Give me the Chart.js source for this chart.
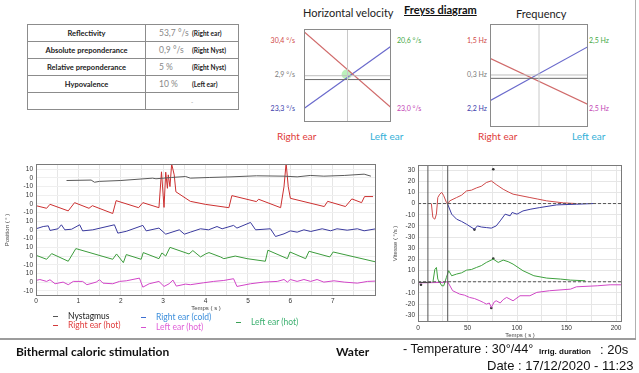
<!DOCTYPE html>
<html>
<head>
<meta charset="utf-8">
<script src="https://cdn.jsdelivr.net/npm/chart.js@4.4.1/dist/chart.umd.min.js"></script>
<style>
  body { margin:0; width:639px; height:373px; background:#fff; position:relative; overflow:hidden; font-family: Lato, "Liberation Sans", sans-serif; }
  .abs { position:absolute; white-space:nowrap; line-height:1; }
  canvas { position:absolute; }
  #tbl { position:absolute; left:27px; top:24px; width:211px; border-collapse:collapse; table-layout:fixed; }
  #tbl td { border:1px solid #8c8c8c; padding:0; height:16px; font-size:7.5px; white-space:nowrap; }
  #tbl td.k { text-align:center; font-weight:bold; color:#222; }
  #tbl td.v { text-align:left; padding-left:13px; }
  #tbl .val { color:#888; font-size:8.5px; display:inline-block; width:33px; }
  #tbl .side { font-weight:bold; font-size:6.5px; color:#222; }
  .sm { font-size:7px; }
  .ear { font-size:10px; }
  .lg { position:absolute; white-space:nowrap; font-size:8.5px; line-height:1; }
  .lg i { display:inline-block; width:5px; height:1px; vertical-align:middle; margin-right:10px; }
</style>
</head>
<body>

<table id="tbl"><colgroup><col style="width:118px"><col style="width:93px"></colgroup></table>

<div class="abs" style="left:303px;top:7px;font-size:11px;color:#222">Horizontal velocity</div>
<div class="abs" style="left:404px;top:4px;font-size:11px;font-weight:bold;text-decoration:underline;color:#111">Freyss diagram</div>
<div class="abs" style="left:516px;top:8px;font-size:11px;color:#222">Frequency</div>

<div id="velText"></div>
<div id="freqText"></div>

<canvas id="vel" width="97" height="103" style="left:299px;top:24px"></canvas>
<canvas id="freq" width="98" height="103" style="left:490px;top:24px"></canvas>

<canvas id="pos" width="390" height="157" style="left:0;top:155px"></canvas>
<canvas id="speed" width="249" height="185" style="left:390px;top:155px"></canvas>

<div id="legend"></div>

<div class="abs" style="left:635px;top:0;width:1px;height:339px;background:#b0b0b0"></div>
<div class="abs" style="left:0;top:338px;width:636px;height:2px;background:#9c9c9c"></div>

<div class="abs" style="left:16px;top:346px;font-size:12px;font-weight:bold;color:#111">Bithermal caloric stimulation</div>
<div class="abs" style="left:336px;top:346px;font-size:12px;font-weight:bold;color:#111">Water</div>
<div class="abs" style="left:403px;top:343px;font-size:12.6px;font-family:'Liberation Sans';color:#111">- Temperature : 30°/44°</div>
<div class="abs" style="left:539px;top:348px;font-size:8px;font-weight:bold;font-family:'Liberation Sans';color:#111">Irrig. duration</div>
<div class="abs" style="left:600px;top:343px;font-size:13px;font-family:'Liberation Sans';color:#111">: 20s</div>
<div class="abs" style="left:487px;top:359px;font-size:13px;font-family:'Liberation Sans';color:#111">Date : 17/12/2020 - 11:23</div>

<script>
// summary table
const tableLabels = ["Reflectivity", "Absolute preponderance", "Relative preponderance", "Hypovalence", ""];
const tableValues = ["53,7 °/s", "0,9 °/s", "5 %", "10 %", "-"];
const tableSides = ["(Right ear)", "(Right Nyst)", "(Right Nyst)", "(Left ear)", ""];

// Freyss diagrams: value at the right-ear side and at the left-ear side
const earSides = [0, 1];
const earMiddle = 0.5;
const velRightEar = [37.7, -27.6];
const velLeftEar = [-28.3, 25.2];
const velRefLines = [-0.2, -3.5];
const velCross = [0.49, 0.8];
const freqRightEar = [13.4, -22.4];
const freqLeftEar = [-19.6, 22.4];
const freqRefLines = [0.4, -2.2];
const velLabels = ["30,4 °/s", "20,6 °/s", "2,9 °/s", "23,3 °/s", "23,0 °/s"];
const freqLabels = ["1,5 Hz", "2,5 Hz", "0,3 Hz", "2,2 Hz", "2,5 Hz"];

// position traces [time s, position °]
const nystagmus = [[0.72,-3],[1.3,-2.5],[1.38,-5],[1.5,-4],[2.0,-3],[2.75,-0.3],[2.83,-1],[3.2,0.5],[3.53,1.6],[3.64,-0.3],[4.1,0.5],[4.6,1.2],[5.2,2.4],[5.85,2],[6.16,1.2],[6.47,2.8],[6.79,2],[7.27,2.8],[7.74,4.3],[7.9,2]];
const rightHot = [[0,-2],[0.25,-5],[0.33,-0.4],[0.76,-8],[0.91,1.5],[1.25,-5],[1.33,-2],[1.81,-11],[1.89,3.8],[2.42,-4.3],[2.52,1.5],[2.9,-4.3],[2.96,37],[3.02,-4],[3.06,36.6],[3.1,18],[3.12,33.5],[3.16,20],[3.2,46],[3.26,33.5],[3.3,14],[3.64,3],[4.0,-0.5],[4.55,-4.3],[4.62,9.6],[5.2,2.7],[5.25,5.4],[5.77,-4.3],[5.85,20],[5.9,47],[5.95,20],[6.0,6.5],[6.8,-3],[6.88,3],[7.3,-3],[7.45,5.8],[7.68,1.5],[7.75,8.5],[7.95,8.5]];
const rightCold = [[0,1.4],[0.17,4],[0.29,4.8],[0.33,-0.5],[0.52,1.4],[0.6,6],[0.68,0.2],[0.84,0.9],[1.03,6],[1.1,-1],[1.34,0.2],[1.85,6],[1.93,-3.6],[2.13,-1.5],[2.52,5.3],[2.6,-1],[2.9,2.2],[3.06,-4.8],[3.38,0.2],[3.5,-4.8],[3.64,-2.5],[3.88,1.4],[4.07,0.2],[4.27,4],[4.39,1.4],[4.66,5.3],[4.74,2.2],[5.06,8.7],[5.18,0.2],[5.53,1.4],[5.65,-7.5],[5.85,-4.4],[6.0,-1],[6.16,-2.5],[6.32,0.2],[6.48,-1.7],[6.75,1.4],[6.95,-0.9],[7.1,1.4],[7.34,-0.2],[7.58,1.4],[7.74,-0.9],[8.02,1.4]];
const leftHotGreen = [[0,0.9],[0.25,-3.7],[0.37,2.8],[0.76,-6],[0.94,8.6],[1.81,-3.7],[1.9,2.4],[2.06,-7.6],[2.13,1.7],[2.48,-3.7],[2.53,4],[2.9,-3],[2.97,3.6],[3.06,0],[3.16,10],[3.61,2.4],[3.7,6.3],[3.88,-1],[4.0,2.4],[4.08,4],[4.35,-1],[4.43,-3],[4.7,0],[4.98,-3],[5.41,-6],[5.47,6.7],[5.93,-3],[5.99,4.7],[6.36,-3],[6.44,5.5],[6.93,-1],[7.01,4.7],[8.02,-6.8]];
const leftHotPink = [[0,1.9],[0.09,3],[0.25,0.8],[0.33,2.7],[0.45,-1.9],[0.64,0],[0.76,-3],[0.88,0.8],[1.1,0.8],[1.2,-3],[1.42,0],[1.5,2.7],[1.58,-1.2],[1.81,-1.9],[1.97,0.8],[2.13,1.5],[2.44,4.6],[2.52,-5.8],[2.67,-1.9],[2.9,0.8],[3.02,-5],[3.14,-1.9],[3.23,2.3],[3.31,-4.6],[3.53,-2.3],[3.64,-3],[3.95,-0.8],[4.19,0.8],[4.43,1.9],[4.66,3.9],[4.74,-5],[5.06,-1.9],[5.37,0],[5.69,0.8],[5.85,3],[5.93,0],[6.0,3],[6.16,0.8],[6.32,3],[6.48,0.8],[6.63,3],[6.79,0],[7.03,1.5],[7.27,0],[7.58,-1.2],[7.82,0.8],[8.02,1.2]];
const leftBandOffsets = [120, 90, 60, 30, 0];
const leftXTicks = [0,0.5,1,1.5,2,2.5,3,3.5,4,4.5,5,5.5,6,6.5,7,7.5,8];
const leftYTicks = [-10,0,10,20,30,40,50,60,70,80,90,100,110,120,130];

// slow phase velocity [time s, velocity °/s]
const speedBaseline = [[0,-0.6],[13,-0.6]];
const speedRightHot = [[13.5,0],[15,-12.5],[17,-14],[18.6,-9.5],[20,5.4],[22,8.4],[24,10],[26,7],[28.7,1],[30,-0.6],[32,2.4],[39,5.4],[44,7.5],[49,11.3],[54,12],[59,14],[64,15.5],[69,18.8],[74,20.3],[79,17],[86,12.8],[91,10.5],[96,8.4],[104,7],[113,5.4],[121,4],[130,2.4],[147,0.6],[160,0]];
const speedRightCold = [[30,-0.6],[34,-9.5],[39,-14],[44,-16],[49,-18.5],[57,-23],[60,-20],[64,-21],[69,-21.5],[74,-22],[79,-20],[83,-15.5],[88,-9.5],[93,-11],[95,-8],[100,-9.5],[106,-6.6],[114,-5],[123,-3.6],[140,-1.2],[160,-0.6],[177,0]];
const speedLeftHotGreen = [[15,-0.6],[17,11],[18.6,12.8],[20,2.4],[24,-3.6],[26,-3.6],[28.7,3.9],[31,9.9],[34,5.4],[39,6.9],[44,8],[49,10.4],[54,11],[59,12.8],[64,14.5],[69,17.3],[76,20.3],[81,17.3],[86,19.4],[91,18],[96,15.8],[106,9.9],[117,5.4],[130,3.3],[144,2.4],[154,1.5],[169,0.9]];
const speedLeftHotPink = [[0,-36],[0,-1],[25,-0.6],[30,0],[35,-8],[42,-11],[47,-12],[52,-14],[57,-15],[62.5,-17],[66,-18.5],[69,-20],[72,-19],[74,-23],[77,-18],[79,-17],[83,-19],[86,-16],[89.5,-14],[96,-17],[103,-12.5],[113,-12.5],[120,-9.5],[133,-8],[154,-6.6],[160,-4.5],[181,-3.6],[194,-2.7],[205,-2.7]];
const speedMarksUpper = [[76,30.7],[57,-23.3]];
const speedMarksLower = [[3,-2.7],[76,20.8],[74,-23.5]];
const irrigationMarks = [10, 30];
const speedBandOffsets = [70, 0];
const speedXMax = 206;
const speedXTicks = [0,25,50,75,100,125,150,175,200];
const speedYTicks = [-30,-20,-10,0,10,20,30,40,50,60,70,80,90,100];

const legendItems = [
    ["Nystagmus", "#555555", "#1a1a1a", 53, 312],
    ["Right ear (hot)", "#d33a3a", "#e03c3c", 53, 321],
    ["Right ear (cold)", "#3b6fd0", "#3d8fdc", 141, 313],
    ["Left ear (hot)", "#d64fcf", "#e060d8", 141, 323],
    ["Left ear (hot)", "#3aa055", "#3cb070", 236, 318]
];

// ---------- html parts
let tbl = document.getElementById("tbl");
for (let i = 0; i < tableLabels.length; i++) {
    let tr = document.createElement("tr");
    tr.innerHTML = '<td class="k">' + tableLabels[i] + '</td><td class="v"><span class="val">' +
        tableValues[i] + '</span><span class="side">' + tableSides[i] + '</span></td>';
    if (i === 4) tr.children[1].innerHTML = '<span class="val" style="padding-left:32px;font-size:6px">' + tableValues[i] + '</span>';
    tbl.appendChild(tr);
}

function placeLabels(id, labels, leftX, rightX) {
    let colors = ["#d04848", "#44a844", "#7a7a7a", "#3b3bab", "#c244b4"];
    let xs = [leftX, rightX, leftX, leftX, rightX];
    let ys = [37, 37, 71, 105, 105];
    let html = "";
    for (let i = 0; i < labels.length; i++) {
        let align = xs[i] === leftX ? "text-align:right;width:26px;left:" + (leftX - 26) + "px" : "left:" + rightX + "px";
        html += '<div class="abs sm" style="' + align + ';top:' + ys[i] + 'px;color:' + colors[i] + '">' + labels[i] + '</div>';
    }
    document.getElementById(id).innerHTML = html;
}
placeLabels("velText", velLabels, 295, 397);
placeLabels("freqText", freqLabels, 487, 589);

let ears = '<div class="abs ear" style="left:277px;top:131px;color:#e03c3c">Right ear</div>' +
    '<div class="abs ear" style="left:370px;top:131px;color:#33b0d8">Left ear</div>' +
    '<div class="abs ear" style="left:478px;top:131px;color:#e03c3c">Right ear</div>' +
    '<div class="abs ear" style="left:572px;top:131px;color:#33b0d8">Left ear</div>';
document.getElementById("velText").innerHTML += ears;

let lg = "";
legendItems.forEach(function (it) {
    lg += '<div class="lg" style="left:' + it[3] + 'px;top:' + it[4] + 'px;color:' + it[2] + '"><i style="background:' + it[1] + '"></i>' + it[0] + '</div>';
});
document.getElementById("legend").innerHTML = lg;

// ---------- charts
const framePlugin = {
    id: "frame",
    afterDraw(chart, args, opts) {
        let a = chart.chartArea, ctx = chart.ctx;
        ctx.save();
        ctx.strokeStyle = opts.color;
        ctx.lineWidth = 1;
        ctx.strokeRect(a.left + 0.5, a.top + 0.5, a.right - a.left - 1, a.bottom - a.top - 1);
        ctx.restore();
    }
};

function pts(pairs, off) {
    return pairs.map(p => ({ x: p[0], y: p[1] + (off || 0) }));
}

function line(data, color, extra) {
    return Object.assign({ data: data, showLine: true, borderColor: color, borderWidth: 1, pointRadius: 0, tension: 0 }, extra || {});
}

function freyssChart(id, rightEar, leftEar, refs, cross) {
    let ds = [
        line([{ x: earMiddle, y: -40 }, { x: earMiddle, y: 40 }], "#c8c8c8"),
        line(earSides.map(x => ({ x: x, y: refs[0] })), "#bdbdbd"),
        line(earSides.map(x => ({ x: x, y: refs[1] })), "#6a6a6a"),
        line(earSides.map((x, i) => ({ x: x, y: rightEar[i] })), "#d06a6a", { borderWidth: 1.2 }),
        line(earSides.map((x, i) => ({ x: x, y: leftEar[i] })), "#6a6acc", { borderWidth: 1.2 })
    ];
    if (cross) ds.push({ data: [{ x: cross[0], y: cross[1] }], pointRadius: 5, pointBackgroundColor: "rgba(120,225,120,0.5)", pointBorderWidth: 0 });
    new Chart(document.getElementById(id), {
        type: "scatter",
        data: { datasets: ds },
        plugins: [framePlugin],
        options: {
            responsive: false, animation: false,
            layout: { padding: 0 },
            scales: {
                x: { type: "linear", min: 0, max: 1, display: false },
                y: { type: "linear", min: -40, max: 40, display: false }
            },
            plugins: { legend: { display: false }, tooltip: { enabled: false }, frame: { color: "#8a8a8a" } }
        }
    });
}
freyssChart("vel", velRightEar, velLeftEar, velRefLines, velCross);
freyssChart("freq", freqRightEar, freqLeftEar, freqRefLines, null);

const tickFont = { family: "Liberation Sans", size: 6.5 };

// position chart
new Chart(document.getElementById("pos"), {
    type: "scatter",
    data: {
        datasets: [
            line(pts(nystagmus, leftBandOffsets[0]), "#5a5a5a"),
            line(pts(rightHot, leftBandOffsets[1]), "#cc3030"),
            line(pts(rightCold, leftBandOffsets[2]), "#3a3a9e"),
            line(pts(leftHotGreen, leftBandOffsets[3]), "#3c9c3c"),
            line(pts(leftHotPink, leftBandOffsets[4]), "#d245c8")
        ]
    },
    plugins: [framePlugin],
    options: {
        responsive: false, animation: false,
        layout: { padding: { top: 9, right: 14, left: 0, bottom: 0 } },
        scales: {
            x: {
                type: "linear", min: 0, max: 8.02,
                afterBuildTicks: s => { s.ticks = leftXTicks.map(v => ({ value: v })); },
                afterFit: s => { s.height = 16; },
                ticks: { font: tickFont, color: "#333", padding: 1, maxRotation: 0, autoSkip: false,
                    callback: v => (v % 1 === 0 && v < 7.5) ? String(v) : "" },
                grid: { color: "#e6e6e6", drawTicks: false },
                border: { display: false },
                title: { display: true, text: "Temps ( s )", font: { family: "Liberation Sans", size: 6 }, color: "#444", padding: 0 }
            },
            y: {
                type: "linear", min: -16, max: 136,
                afterBuildTicks: s => { s.ticks = leftYTicks.map(v => ({ value: v })); },
                afterFit: s => { s.width = 36; },
                ticks: { font: tickFont, color: "#333", padding: 3, autoSkip: false,
                    callback: v => String(((v % 30) + 45) % 30 - 15) },
                grid: { color: "#efefef", drawTicks: false },
                border: { display: false },
                title: { display: true, text: "Position ( ° )", font: { family: "Liberation Sans", size: 6 }, color: "#444", padding: { top: 4 } }
            }
        },
        plugins: { legend: { display: false }, tooltip: { enabled: false }, frame: { color: "#7a7a7a" } }
    }
});

// velocity chart
let speedSets = [];
speedBandOffsets.forEach(function (off) {
    speedSets.push(line([{ x: 0, y: off }, { x: speedXMax, y: off }], "#555", { borderDash: [3, 2] }));
});
irrigationMarks.forEach(function (t) {
    speedSets.push(line([{ x: t, y: -40 }, { x: t, y: 110 }], "#555"));
});
speedSets.push(line(pts(speedBaseline, speedBandOffsets[1]), "#444"));
speedSets.push(line(pts(speedRightHot, speedBandOffsets[0]), "#cf4a4a"));
speedSets.push(line(pts(speedRightCold, speedBandOffsets[0]), "#3b3ba3"));
speedSets.push(line(pts(speedLeftHotGreen, speedBandOffsets[1]), "#3ea13e"));
speedSets.push(line(pts(speedLeftHotPink, speedBandOffsets[1]), "#d048c6"));
speedSets.push({ data: pts(speedMarksUpper, speedBandOffsets[0]).concat(pts(speedMarksLower, speedBandOffsets[1])),
    pointRadius: 1.3, pointBackgroundColor: "#333", pointBorderWidth: 0 });

new Chart(document.getElementById("speed"), {
    type: "scatter",
    data: { datasets: speedSets },
    plugins: [framePlugin],
    options: {
        responsive: false, animation: false,
        layout: { padding: { top: 10, right: 17, left: 0, bottom: 0 } },
        scales: {
            x: {
                type: "linear", min: 0, max: speedXMax,
                afterBuildTicks: s => { s.ticks = speedXTicks.map(v => ({ value: v })); },
                afterFit: s => { s.height = 18; },
                ticks: { font: tickFont, color: "#333", padding: 2, maxRotation: 0, autoSkip: false,
                    callback: v => v % 50 === 0 ? String(v) : "" },
                grid: { color: "#e6e6e6", drawTicks: false },
                border: { display: false },
                title: { display: true, text: "Temps ( s )", font: { family: "Liberation Sans", size: 6 }, color: "#444", padding: 1 }
            },
            y: {
                type: "linear", min: -36, max: 104.5,
                afterBuildTicks: s => { s.ticks = speedYTicks.map(v => ({ value: v })); },
                afterFit: s => { s.width = 28; },
                ticks: { font: tickFont, color: "#333", padding: 3, autoSkip: false,
                    callback: v => String(v >= 40 ? v - 70 : v) },
                grid: { color: "#e6e6e6", drawTicks: false },
                border: { display: false },
                title: { display: true, text: "Vitesse ( °/s )", font: { family: "Liberation Sans", size: 6 }, color: "#444", padding: { top: 2 } }
            }
        },
        plugins: { legend: { display: false }, tooltip: { enabled: false }, frame: { color: "#7a7a7a" } }
    }
});
</script>
</body>
</html>
